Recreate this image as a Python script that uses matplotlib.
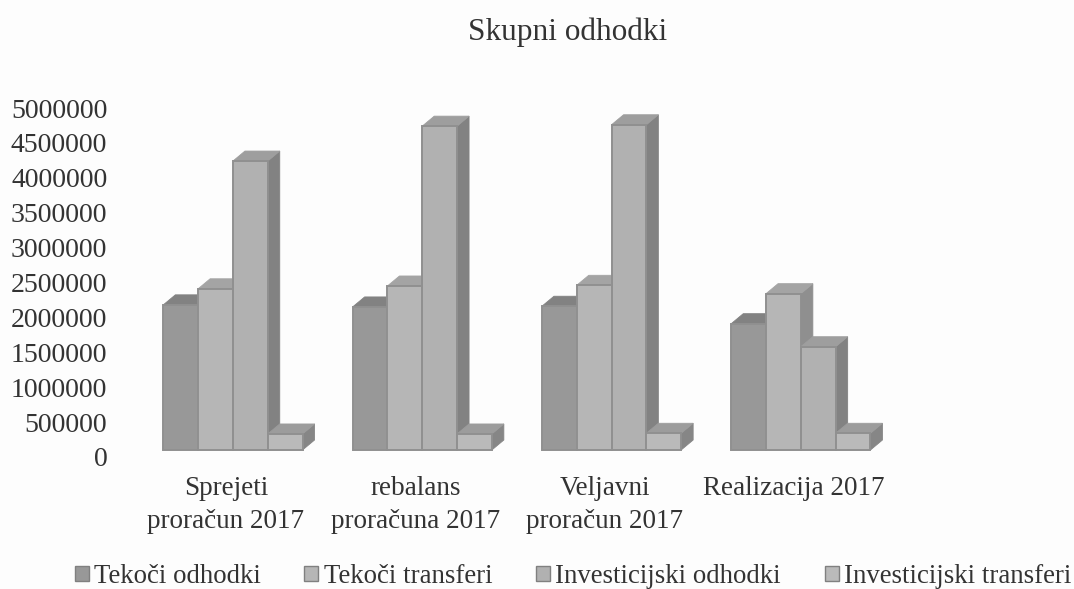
import matplotlib
matplotlib.use("Agg")
import matplotlib.pyplot as plt
from matplotlib.patches import Polygon, Patch
from matplotlib.transforms import ScaledTranslation
import numpy as np

categories = ["Sprejeti\nproračun 2017", "rebalans\nproračuna 2017", "Veljavni\nproračun 2017", "Realizacija 2017"]
tekoci_odhodki = [2180000, 2150000, 2160000, 1910000]
tekoci_transferi = [2410000, 2450000, 2460000, 2340000]
investicijski_odhodki = [4240000, 4740000, 4760000, 1580000]
investicijski_transferi = [330000, 330000, 340000, 340000]
series_names = ["Tekoči odhodki", "Tekoči transferi", "Investicijski odhodki", "Investicijski transferi"]
title = "Skupni odhodki"
y_ticks = [0, 500000, 1000000, 1500000, 2000000, 2500000, 3000000, 3500000, 4000000, 4500000, 5000000]

W, H = 1074, 589
plt.rcParams["font.family"] = ["Liberation Serif", "DejaVu Serif"]
fig = plt.figure(figsize=(W / 100, H / 100), dpi=100, facecolor="#fdfdfd")
L, R, T, B = 133, 890.2, 108, 457
ax = fig.add_axes([L / W, 1 - B / H, (R - L) / W, (B - T) / H], facecolor="none")
ax.set_xlim(-0.528, 3.472)
ax.set_ylim(0, 5000000)
for s in ax.spines.values():
    s.set_visible(False)

px_x = 4 / (R - L)          # data units per pixel, x
px_y = 5000000 / (B - T)    # data units per pixel, y
bar_w = 34.8 * px_x
dx, dy = 12 * px_x, 10 * px_y
floor = 7 * px_y            # front floor edge sits slightly above the 0 label

all_series = [tekoci_odhodki, tekoci_transferi, investicijski_odhodki, investicijski_transferi]
front = ["#989898", "#b6b6b6", "#b1b1b1", "#bababa"]
top = ["#828282", "#a4a4a4", "#9e9e9e", "#9c9c9c"]
side = ["#777777", "#8f8f8f", "#828282", "#868686"]
edge = "#909090"

for c in range(len(categories)):
    for s, vals in enumerate(all_series):
        x0 = c + (s - 2) * bar_w
        x1 = x0 + bar_w
        v = vals[c]
        z = 2 + c * 10 + s
        ax.bar(x0, v - floor, width=bar_w, bottom=floor, align="edge", color=front[s],
               edgecolor=edge, linewidth=1.4, zorder=z + 0.5, clip_on=False)
        ax.add_patch(Polygon([(x0, v), (x1, v), (x1 + dx, v + dy), (x0 + dx, v + dy)],
                             closed=True, facecolor=top[s], edgecolor=top[s], linewidth=0.6,
                             zorder=z + 0.2, clip_on=False))
        ax.add_patch(Polygon([(x1, floor), (x1 + dx, floor + dy), (x1 + dx, v + dy), (x1, v)],
                             closed=True, facecolor=side[s], edgecolor=side[s], linewidth=0.6,
                             zorder=z + 0.1, clip_on=False))

text_color = "#333333"
ax.set_yticks(y_ticks)
ax.set_yticklabels([str(t) for t in y_ticks], fontsize=20, color=text_color)
ax.tick_params(axis="y", length=0, pad=18.5)
ax.set_xticks(range(len(categories)))
ax.set_xticklabels(categories, fontsize=19.5, color=text_color, linespacing=1.41)
ax.tick_params(axis="x", length=0, pad=13.5)
shift = ScaledTranslation(-7 / 100, 0, fig.dpi_scale_trans)
for lab in ax.get_xticklabels():
    lab.set_transform(lab.get_transform() + shift)

fig.text(568 / W, 1 - 32 / H, title, fontsize=22.5, color=text_color, ha="center", va="center")

handles = [Patch(facecolor=front[i], edgecolor="#808080", linewidth=1.0) for i in range(4)]
fig.legend(handles, series_names, loc="center", bbox_to_anchor=(573 / W, 1 - 576.5 / H), ncol=4,
           frameon=False, fontsize=19.3, labelcolor=text_color, handlelength=0.52, handleheight=0.52,
           handletextpad=0.2, columnspacing=1.63, borderpad=0, borderaxespad=0)

fig.savefig("out.png", dpi=100, facecolor=fig.get_facecolor())
